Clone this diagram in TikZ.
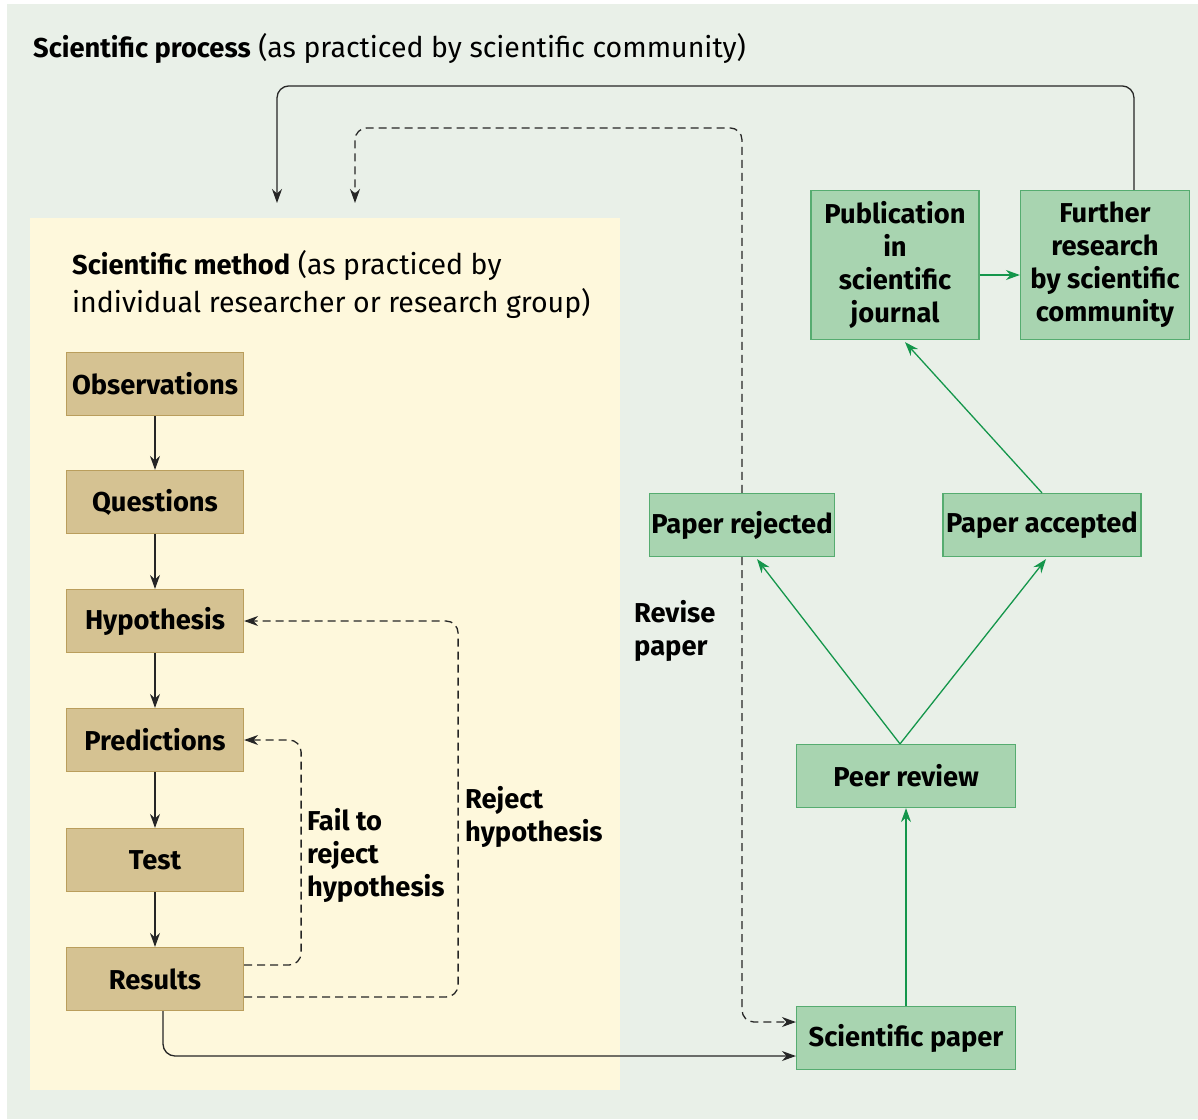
\documentclass[tikz,border=0pt]{standalone}
\usepackage{fontspec}
\setmainfont{Fira Sans}
\usetikzlibrary{positioning,arrows.meta}
\definecolor{outerbg}{RGB}{233,240,232}
\definecolor{innerbg}{RGB}{254,248,220}
\definecolor{tanfill}{RGB}{213,194,146}
\definecolor{tanline}{RGB}{186,158,92}
\definecolor{grnfill}{RGB}{168,212,176}
\definecolor{grnline}{RGB}{86,172,112}
\definecolor{grnarrow}{RGB}{20,150,75}

\begin{document}
\begin{tikzpicture}[x=1pt,y=-1pt,
  every node/.style={font=\fontsize{28.5}{38}\selectfont},
  tanbox/.style={draw=tanline,fill=tanfill,line width=1.2pt,minimum width=177pt,minimum height=63pt,inner sep=0pt,font=\fontsize{27.3}{33}\selectfont\bfseries},
  grnbox/.style={draw=grnline,fill=grnfill,line width=1.2pt,minimum height=63pt,inner sep=0pt,align=center,font=\fontsize{27.3}{33}\selectfont\bfseries},
  lbl/.style={align=left,anchor=north west,inner sep=0pt,font=\fontsize{27.3}{33}\selectfont\bfseries},
  arr/.style={-{Stealth[length=14pt,width=10pt]},line width=1.3pt},
  blk/.style={arr,black!85},
  dsh/.style={blk,dash pattern=on 8pt off 5pt,rounded corners=12pt},
  grn/.style={arr,grnarrow}]
\useasboundingbox (0,0) rectangle (1198,1119);
\fill[outerbg] (7,4) rectangle (1198,1119);
\fill[innerbg] (30,218) rectangle (620,1090);

% titles
\node[anchor=base west,inner sep=0pt] (ttl) at (33,57) {\textbf{\fontsize{27.3}{33}\selectfont Scientific process} (as practiced by scientific community)};
\node[anchor=north west,inner sep=0pt,align=left] (mttl) at (72,250) {\textbf{\fontsize{27.3}{33}\selectfont Scientific method} (as practiced by\\individual researcher or research group)};

% scientific method steps
\foreach \nm/\txt/\y in {obs/Observations/384,qst/Questions/502,hyp/Hypothesis/621,pred/Predictions/740,tst/Test/860,res/Results/979} {
  \node[tanbox] (\nm) at (155,\y) {\txt};
}
\foreach \a/\b in {obs/qst,qst/hyp,hyp/pred,pred/tst,tst/res} {
  \draw[blk] (\a) -- (\b);
}

% feedback loops
\draw[dsh] ([yshift=14pt]res.east) -- ++(57,0) |- (pred.east);
\draw[dsh] ([yshift=-18pt]res.east) -- ++(214,0) |- (hyp.east);
\node[lbl] (fail) at (307,808) {Fail to\\reject\\hypothesis};
\node[lbl] (rej-h) at (465,786) {Reject\\hypothesis};

% scientific community
\node[grnbox,minimum width=219pt] (sp) at (906,1038) {Scientific paper};
\node[grnbox,minimum width=219pt] (pr) at (906,776) {Peer review};
\node[grnbox,minimum width=185pt] (rej) at (742,525) {Paper rejected};
\node[grnbox,minimum width=198pt] (acc) at (1042,525) {Paper accepted};
\node[grnbox,minimum width=168pt,minimum height=149pt] (pub) at (895,265) {Publication\\in\\scientific\\journal};
\node[grnbox,minimum width=169pt,minimum height=149pt] (fur) at (1105,265) {Further\\research\\by scientific\\community};

\draw[grn] (sp) -- (pr);
\draw[grn] ([xshift=-6pt]pr.north) -- ([xshift=15pt,yshift=-2pt]rej.south);
\draw[grn] ([xshift=-6pt]pr.north) -- ([xshift=4pt,yshift=-2pt]acc.south);
\draw[grn] (acc.north) -- ([xshift=10pt,yshift=-2pt]pub.south);
\draw[grn] ([yshift=-10pt]pub.east) -- ([yshift=-10pt]fur.west);

% links between method and community
\coordinate (inA) at (277,203);
\coordinate (inB) at (355,203);
\draw[blk,rounded corners=12pt] ([xshift=8pt]res.south) |- ([yshift=-18pt]sp.west);
\draw[blk,rounded corners=12pt] ([xshift=29pt]fur.north) -- ++(0,-104) -| (inA);
\draw[dsh] (rej.north) -- ++(0,-365) -| (inB);
\draw[dsh] (rej.south) |- ([yshift=16pt]sp.west);
\node[lbl] (rev) at (634,600) {Revise\\paper};
\end{tikzpicture}
\end{document}
